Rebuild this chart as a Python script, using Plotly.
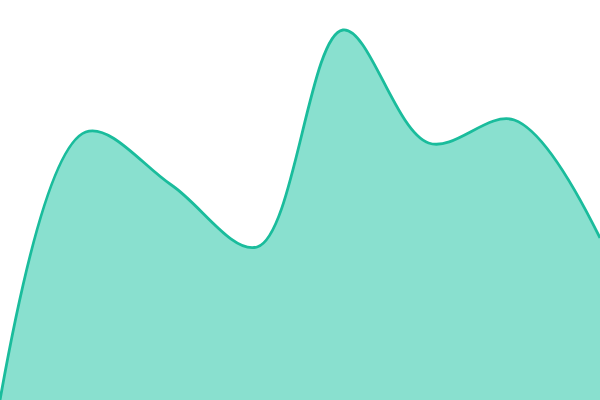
import plotly.graph_objects as go

# values (pixel height from the bottom)
x_vals = [0, 1, 2, 3, 4, 5, 6, 7]
y_vals = [0, 268, 215, 153, 370, 257, 280, 162]

fig = go.Figure()
fig.add_trace(go.Scatter(
    x=x_vals,
    y=y_vals,
    mode="lines",
    line=dict(color="#1abc9c", width=2.8, shape="spline", smoothing=1),
    fill="tozeroy",
    fillcolor="#89e0cf",
    hoverinfo="skip",
))
fig.update_layout(
    width=600,
    height=400,
    margin=dict(l=0, r=0, t=0, b=0),
    paper_bgcolor="white",
    plot_bgcolor="white",
    showlegend=False,
    xaxis=dict(visible=False, range=[0, 7]),
    yaxis=dict(visible=False, range=[0, 400]),
)
# drop the default page margin so the chart fills the window
fig.write_html(
    "out.html",
    config={"displayModeBar": False},
    post_script="document.body.style.margin='0';document.body.style.overflow='hidden';",
)
